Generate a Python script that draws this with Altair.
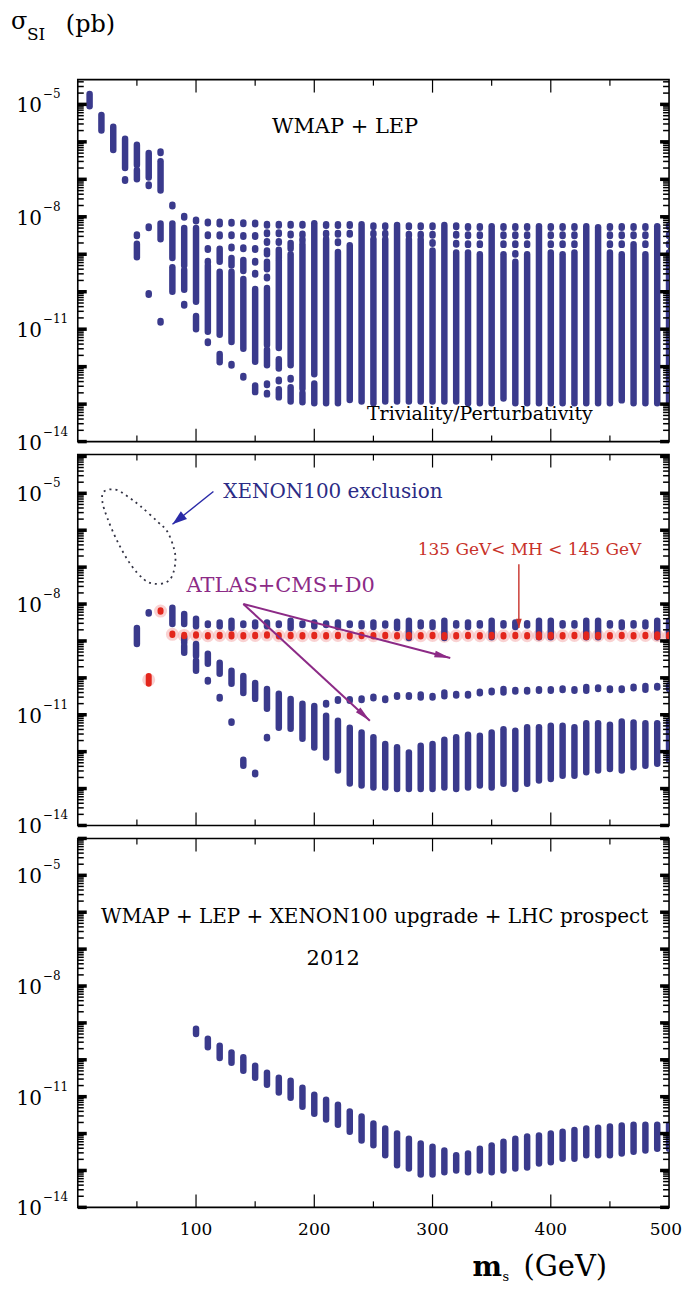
import math
import altair as alt
import pandas as pd

# ---------------- layout constants ----------------
W = 593
H1, H2, H3 = 363, 372, 370
TOP1, TOP2, TOP3 = -4.34, -3.95, -4.0   # log10 of upper y limit per panel
BOT = -14

BLUE = "#3a3a8c"
RED = "#e3261c"
PINK = "#f4a6a6"
PURPLE = "#8c2a86"
DBLUE = "#2b2b85"
FONT = "DejaVu Serif"

# ---------------- data (m_s in GeV, log10 sigma_SI in pb: top, bottom) ----------------
P1_SEG = [
    (10, -4.72, -5.05),
    (20, -5.28, -5.70),
    (30, -5.60, -6.22),
    (40, -5.92, -6.70), (40, -7.00, -7.04),
    (50, -6.08, -6.62), (50, -6.75, -7.00), (50, -8.47, -8.51), (50, -8.72, -9.08),
    (60, -6.30, -6.95), (60, -7.14, -7.18), (60, -8.26, -8.30), (60, -10.04, -10.08),
    (70, -6.26, -6.30), (70, -6.52, -7.30), (70, -8.18, -8.60), (70, -10.78, -10.82),
    (80, -7.68, -7.72), (80, -8.18, -9.10), (80, -9.35, -10.00),
    (90, -7.98, -8.02), (90, -8.30, -9.30), (90, -9.42, -9.95), (90, -10.33, -10.37),
    (100, -8.08, -8.12), (100, -8.30, -10.27), (100, -10.65, -11.00),
    (110, -8.13, -8.17), (110, -8.47, -8.51), (110, -8.84, -8.88), (110, -9.18, -9.22), (110, -9.30, -11.07), (110, -11.33, -11.37),
    (120, -8.13, -8.20), (120, -8.47, -8.52), (120, -8.85, -9.20), (120, -9.47, -11.15), (120, -11.66, -11.88),
    (130, -8.14, -8.18), (130, -8.47, -8.51), (130, -8.80, -8.84), (130, -9.10, -9.30), (130, -9.47, -11.34), (130, -11.93, -11.97),
    (140, -8.15, -8.19), (140, -8.49, -8.53), (140, -8.82, -8.86), (140, -9.15, -9.45), (140, -9.66, -11.52), (140, -12.25, -12.29),
    (150, -8.16, -8.20), (150, -8.49, -8.53), (150, -8.84, -8.88), (150, -9.18, -9.22), (150, -9.50, -9.54), (150, -9.93, -11.87), (150, -12.50, -12.68),
    (160, -8.19, -8.23), (160, -8.42, -8.46), (160, -8.65, -8.69), (160, -8.90, -9.00), (160, -9.20, -9.40), (160, -9.60, -9.64), (160, -9.90, -11.42), (160, -11.55, -11.96), (160, -12.45, -12.49), (160, -12.70, -12.74),
    (170, -8.19, -8.23), (170, -8.42, -8.46), (170, -8.65, -8.69), (170, -8.88, -9.10), (170, -9.16, -11.50), (170, -11.80, -12.05), (170, -12.35, -12.39), (170, -12.60, -12.82),
    (180, -8.19, -8.23), (180, -8.45, -8.49), (180, -8.70, -8.85), (180, -9.00, -11.96), (180, -12.30, -12.34), (180, -12.55, -12.93),
    (190, -8.19, -8.23), (190, -8.45, -8.49), (190, -8.60, -8.64), (190, -8.73, -12.59), (190, -12.70, -12.95),
    (200, -8.17, -12.20), (200, -12.45, -12.98),
    (210, -8.20, -8.24), (210, -8.43, -8.47), (210, -8.59, -12.98),
    (220, -8.20, -8.24), (220, -8.43, -8.47), (220, -8.66, -8.70), (220, -8.94, -12.98),
    (230, -8.20, -8.24), (230, -8.43, -8.47), (230, -8.76, -12.89),
    (240, -8.20, -12.93),
    (250, -8.23, -8.27), (250, -8.43, -8.47), (250, -8.60, -12.98),
    (260, -8.23, -8.27), (260, -8.43, -8.47), (260, -8.60, -12.93),
    (270, -8.22, -12.93),
    (280, -8.23, -8.27), (280, -8.46, -8.50), (280, -8.60, -12.93),
    (290, -8.23, -8.27), (290, -8.46, -8.50), (290, -8.60, -12.93),
    (300, -8.23, -8.27), (300, -8.46, -8.50), (300, -8.68, -8.72), (300, -8.90, -12.93),
    (310, -8.22, -12.93),
    (320, -8.23, -8.27), (320, -8.46, -8.50), (320, -8.70, -8.74), (320, -8.95, -12.93),
    (330, -8.25, -8.29), (330, -8.47, -8.51), (330, -8.71, -8.75), (330, -8.95, -12.98),
    (340, -8.25, -8.29), (340, -8.47, -8.51), (340, -8.71, -8.75), (340, -9.00, -12.98),
    (350, -8.25, -12.98),
    (360, -8.25, -8.29), (360, -8.47, -8.51), (360, -8.71, -8.75), (360, -9.00, -12.85),
    (370, -8.25, -8.29), (370, -8.47, -8.51), (370, -8.71, -8.75), (370, -8.97, -9.01), (370, -9.20, -12.98),
    (380, -8.25, -8.29), (380, -8.47, -8.51), (380, -8.71, -8.75), (380, -9.00, -12.98),
    (390, -8.25, -12.98),
    (400, -8.25, -8.29), (400, -8.47, -8.51), (400, -8.71, -8.75), (400, -8.95, -12.98),
    (410, -8.25, -8.29), (410, -8.47, -8.51), (410, -8.71, -8.75), (410, -9.00, -12.98),
    (420, -8.25, -8.29), (420, -8.47, -8.51), (420, -8.71, -8.75), (420, -8.95, -12.98),
    (430, -8.25, -12.98),
    (440, -8.28, -12.98),
    (450, -8.25, -8.29), (450, -8.47, -8.51), (450, -8.71, -8.75), (450, -8.95, -12.98),
    (460, -8.25, -8.29), (460, -8.47, -8.51), (460, -8.71, -8.75), (460, -9.00, -12.90),
    (470, -8.25, -8.29), (470, -8.47, -8.51), (470, -8.73, -12.98),
    (480, -8.25, -8.29), (480, -8.47, -8.51), (480, -8.71, -8.75), (480, -9.00, -12.98),
    (490, -8.25, -12.98),
    (500, -8.23, -8.27), (500, -8.47, -8.51), (500, -8.71, -8.75), (500, -8.95, -12.98),
]

P2_BLUE = [
    (50, -8.65, -9.08),
    (60, -8.22, -8.26),
    (80, -8.10, -8.54),
    (90, -8.27, -8.54), (90, -8.90, -9.05), (90, -9.14, -9.32),
    (100, -8.40, -8.60), (100, -9.08, -9.41), (100, -9.54, -9.81),
    (110, -8.53, -8.57), (110, -9.35, -9.62), (110, -10.06, -10.10),
    (120, -8.50, -8.60), (120, -9.59, -9.89), (120, -10.52, -10.56),
    (130, -8.45, -8.65), (130, -9.81, -10.16), (130, -11.18, -11.22),
    (140, -8.53, -8.57), (140, -9.95, -10.41), (140, -12.22, -12.38),
    (150, -8.50, -8.60), (150, -10.14, -10.57), (150, -12.57, -12.61),
    (160, -8.50, -8.60), (160, -10.30, -10.84), (160, -11.60, -11.64),
    (170, -8.53, -8.57), (170, -10.43, -11.35),
    (180, -8.45, -8.65), (180, -10.57, -11.38),
    (190, -8.53, -8.57), (190, -10.70, -11.65),
    (200, -8.50, -8.60), (200, -10.76, -11.89),
    (210, -8.53, -8.57), (210, -10.68, -10.72), (210, -11.03, -12.16),
    (220, -8.50, -8.62), (220, -10.58, -10.62), (220, -11.16, -12.51),
    (230, -8.53, -8.57), (230, -10.58, -10.62), (230, -11.35, -12.86),
    (240, -8.52, -8.60), (240, -10.56, -10.60), (240, -11.48, -12.92),
    (250, -8.50, -8.62), (250, -10.51, -10.55), (250, -11.61, -12.97),
    (260, -8.53, -8.58), (260, -10.56, -10.60), (260, -11.79, -12.97),
    (270, -8.48, -8.65), (270, -10.47, -10.51), (270, -11.88, -13.01),
    (280, -8.45, -8.92), (280, -10.47, -10.51), (280, -12.02, -13.01),
    (290, -8.50, -8.60), (290, -10.45, -10.53), (290, -11.84, -13.01),
    (300, -8.50, -8.62), (300, -10.49, -10.53), (300, -11.79, -13.01),
    (310, -8.45, -8.92), (310, -10.40, -10.50), (310, -11.68, -12.97),
    (320, -8.52, -8.58), (320, -10.44, -10.48), (320, -11.61, -13.01),
    (330, -8.50, -8.62), (330, -10.44, -10.48), (330, -11.54, -12.97),
    (340, -8.52, -8.58), (340, -10.38, -10.42), (340, -11.57, -12.92),
    (350, -8.45, -8.90), (350, -10.35, -10.39), (350, -11.48, -12.97),
    (360, -8.52, -8.58), (360, -10.30, -10.40), (360, -11.39, -12.87),
    (370, -8.50, -8.62), (370, -10.33, -10.37), (370, -11.43, -13.01),
    (380, -8.52, -8.58), (380, -10.33, -10.37), (380, -11.34, -12.87),
    (390, -8.45, -8.90), (390, -10.31, -10.35), (390, -11.34, -12.78),
    (400, -8.45, -8.90), (400, -10.31, -10.35), (400, -11.30, -12.74),
    (410, -8.52, -8.58), (410, -10.29, -10.33), (410, -11.30, -12.65),
    (420, -8.52, -8.58), (420, -10.31, -10.35), (420, -11.34, -12.65),
    (430, -8.45, -8.90), (430, -10.25, -10.35), (430, -11.23, -12.56),
    (440, -8.45, -8.90), (440, -10.26, -10.30), (440, -11.23, -12.51),
    (450, -8.52, -8.58), (450, -10.29, -10.33), (450, -11.27, -12.47),
    (460, -8.50, -8.62), (460, -10.29, -10.33), (460, -11.18, -12.51),
    (470, -8.52, -8.58), (470, -10.24, -10.28), (470, -11.21, -12.42),
    (480, -8.50, -8.60), (480, -10.22, -10.32), (480, -11.23, -12.38),
    (490, -8.45, -8.90), (490, -10.22, -10.26), (490, -11.23, -12.33),
    (500, -8.45, -8.90), (500, -10.20, -10.30), (500, -11.16, -12.24),
]

P2_RED = [
    (60, -9.95, -10.16), (70, -8.17, -8.21),
    (80, -8.80, -8.84), (90, -8.83, -8.87), (100, -8.82, -8.86), (110, -8.84, -8.88),
    (120, -8.83, -8.87), (130, -8.82, -8.88), (140, -8.84, -8.88), (150, -8.83, -8.87),
    (160, -8.82, -8.86), (170, -8.84, -8.88), (180, -8.83, -8.87), (190, -8.84, -8.88),
    (200, -8.83, -8.87), (210, -8.84, -8.88), (220, -8.83, -8.87), (230, -8.84, -8.88),
    (240, -8.83, -8.87), (250, -8.84, -8.88), (260, -8.83, -8.87), (270, -8.84, -8.88),
    (280, -8.83, -8.89), (290, -8.84, -8.88), (300, -8.83, -8.87), (310, -8.84, -8.90),
    (320, -8.84, -8.88), (330, -8.83, -8.87), (340, -8.84, -8.88), (350, -8.83, -8.89),
    (360, -8.84, -8.88), (370, -8.83, -8.87), (380, -8.84, -8.88), (390, -8.82, -8.90),
    (400, -8.83, -8.89), (410, -8.84, -8.88), (420, -8.83, -8.87), (430, -8.82, -8.90),
    (440, -8.83, -8.89), (450, -8.84, -8.88), (460, -8.83, -8.87), (470, -8.84, -8.88),
    (480, -8.83, -8.87), (490, -8.82, -8.90), (500, -8.83, -8.89),
]

P3_SEG = [
    (100, -9.16, -9.30), (110, -9.43, -9.66), (120, -9.62, -9.95), (130, -9.80, -10.08),
    (140, -9.93, -10.30), (150, -10.16, -10.49), (160, -10.35, -10.68), (170, -10.49, -10.89),
    (180, -10.57, -11.03), (190, -10.76, -11.27), (200, -10.95, -11.46), (210, -11.08, -11.62),
    (220, -11.22, -11.76), (230, -11.40, -11.95), (240, -11.54, -12.19), (250, -11.73, -12.32),
    (260, -11.86, -12.59), (270, -12.00, -12.86), (280, -12.14, -12.95), (290, -12.27, -13.11),
    (300, -12.36, -13.11), (310, -12.46, -13.05), (320, -12.59, -13.00), (330, -12.54, -13.05),
    (340, -12.41, -13.00), (350, -12.32, -13.05), (360, -12.22, -13.00), (370, -12.14, -12.95),
    (380, -12.08, -12.92), (390, -12.05, -12.81), (400, -12.00, -12.78), (410, -11.95, -12.68),
    (420, -11.90, -12.68), (430, -11.86, -12.59), (440, -11.84, -12.59), (450, -11.81, -12.59),
    (460, -11.78, -12.54), (470, -11.76, -12.49), (480, -11.76, -12.46), (490, -11.76, -12.41),
    (500, -11.76, -12.41),
]

# XENON100 exclusion contour (dotted, closed)
XENON_M = [22.2, 32.0, 41.9, 53.1, 67.2, 75.6, 81.2, 82.6, 79.8, 74.2, 64.3, 55.9, 44.7, 33.5, 25.0, 20.8]
XENON_E = [-4.95, -4.90, -5.08, -5.35, -5.76, -6.03, -6.48, -6.84, -7.24, -7.42, -7.45, -7.33, -6.93, -6.30, -5.67, -5.22]

# arrows in panel 2: (m0, e0, m1, e1, colour, width, head path, head size)
ARROWS_P2 = [
    (114.7, -4.95, 80.1, -5.84, "#2a2aa8", 1.4, "M0,0L0.8,2.4L-0.8,2.4Z", 150),
    (140.0, -8.00, 315.0, -9.46, PURPLE, 2.0, "M0,0L0.55,2.6L-0.55,2.6Z", 150),
    (140.0, -8.00, 247.0, -11.16, PURPLE, 2.0, "M0,0L0.55,2.6L-0.55,2.6Z", 150),
    (373.0, -6.92, 373.0, -8.65, "#c8322a", 1.4, "M0,0L0.7,2.2L-0.7,2.2Z", 70),
]

# annotation texts: (text, m, log10 sigma, align, colour, size)
TEXT_P1 = [
    ("WMAP + LEP", 226, -5.61, "center", "black", 21),
    ("Triviality/Perturbativity", 340, -13.27, "center", "black", 19),
]
TEXT_P2 = [
    ("XENON100 exclusion", 123, -4.96, "left", DBLUE, 20),
    ("ATLAS+CMS+D0", 92, -7.51, "left", PURPLE, 21),
    ("135 GeV< MH < 145 GeV", 382, -6.53, "center", "#c8322a", 17),
]
TEXT_P3 = [
    ("WMAP + LEP + XENON100 upgrade + LHC prospect", 251, -6.14, "center", "black", 20),
    ("2012", 216, -7.27, "center", "black", 21),
]

Y_LABEL_EXPS = [-5, -8, -11, -14]
X_MAJOR = [100, 200, 300, 400]
X_MINOR = [50, 150, 250, 350, 450]
X_LABELS = [100, 200, 300, 400, 500]


# ---------------- helpers ----------------
def xsc():
    return alt.Scale(domain=[0, 500], nice=False, zero=False)


def ysc(top):
    return alt.Scale(type="log", domain=[10.0 ** BOT, 10.0 ** top], nice=False)


def X(field="m"):
    return alt.X(f"{field}:Q", scale=xsc(), axis=None)


def Y(top, field="y"):
    return alt.Y(f"{field}:Q", scale=ysc(top), axis=None)


def seg_layer(rows, top, color, width=6.5):
    df = pd.DataFrame(rows, columns=["m", "hi", "lo"])
    df["y"] = 10.0 ** df["hi"]
    df["y2"] = 10.0 ** df["lo"]
    return alt.Chart(df).mark_rule(strokeWidth=width, strokeCap="round", color=color, clip=True).encode(
        x=X(), y=Y(top), y2="y2:Q")


def frame_ticks(top, H):
    layers = []
    maj = [10.0 ** e for e in range(BOT, 0) if e <= top + 1e-9]
    minr = [k * 10.0 ** e for e in range(BOT, 0) for k in range(2, 10) if math.log10(k) + e < top]
    dmaj = pd.DataFrame({"y": maj})
    dmin = pd.DataFrame({"y": minr})
    for x0, x1, x2, x3 in [(0, 9, 0, 6), (W - 9, W, W - 6, W)]:
        layers.append(alt.Chart(dmaj).mark_rule(strokeWidth=3.5, color="black").encode(
            x=alt.value(x0), x2=alt.value(x1), y=Y(top)))
        layers.append(alt.Chart(dmin).mark_rule(strokeWidth=1.5, color="black").encode(
            x=alt.value(x2), x2=alt.value(x3), y=Y(top)))
    dxM = pd.DataFrame({"m": X_MAJOR})
    dxm = pd.DataFrame({"m": X_MINOR})
    for y0, y1, y2, y3 in [(0, 13, 0, 6), (H - 13, H, H - 6, H)]:
        layers.append(alt.Chart(dxM).mark_rule(strokeWidth=1.2, color="black").encode(
            x=X(), y=alt.value(y0), y2=alt.value(y1)))
        layers.append(alt.Chart(dxm).mark_rule(strokeWidth=1.2, color="black").encode(
            x=X(), y=alt.value(y2), y2=alt.value(y3)))
    return layers


def y_labels(top):
    df = pd.DataFrame({"e": Y_LABEL_EXPS})
    df["y"] = 10.0 ** df["e"]
    df["base"] = "10"
    df["expo"] = ["\u2212" + str(-e) for e in Y_LABEL_EXPS]
    a = alt.Chart(df).mark_text(align="right", baseline="middle", font=FONT, fontSize=20, dy=2,
                                color="black").encode(x=alt.value(-36), y=Y(top), text="base:N")
    b = alt.Chart(df).mark_text(align="left", baseline="middle", font=FONT, fontSize=12, dy=-10,
                                color="black").encode(x=alt.value(-35), y=Y(top), text="expo:N")
    return [a, b]


def texts(items, top):
    out = []
    for t, m, e, al, col, sz in items:
        df = pd.DataFrame({"m": [m], "y": [10.0 ** e], "t": [t]})
        out.append(alt.Chart(df).mark_text(align=al, baseline="middle", font=FONT, fontSize=sz,
                                           color=col).encode(x=X(), y=Y(top), text="t:N"))
    return out


def arrows(items, top, H):
    out = []
    for m0, e0, m1, e1, col, sw, path, size in items:
        df = pd.DataFrame({"m": [m0], "y": [10.0 ** e0], "m2": [m1], "y2": [10.0 ** e1]})
        out.append(alt.Chart(df).mark_rule(color=col, strokeWidth=sw).encode(
            x=X(), y=Y(top), x2="m2:Q", y2="y2:Q"))
        dx = (m1 - m0) * W / 500.0
        dy = (e0 - e1) * H / (top - BOT)
        ang = math.degrees(math.atan2(dx, -dy)) % 360
        dh = pd.DataFrame({"m": [m1], "y": [10.0 ** e1]})
        out.append(alt.Chart(dh).mark_point(shape=path, filled=True, size=size, color=col,
                                            strokeWidth=0, opacity=1, angle=ang).encode(x=X(), y=Y(top)))
    return out


def txt_px(t, x, y, size, align="left", weight="normal"):
    df = pd.DataFrame({"t": [t]})
    return alt.Chart(df).mark_text(align=align, baseline="alphabetic", font=FONT, fontSize=size,
                                   fontWeight=weight, color="black").encode(
        x=alt.value(x), y=alt.value(y), text="t:N")


# ---------------- panel 1 ----------------
anchor = alt.Chart(pd.DataFrame({"a": [0]})).mark_rule(color="white", strokeWidth=0.1).encode(
    x=alt.value(-77), x2=alt.value(607), y=alt.value(-77))

p1_layers = [anchor, seg_layer(P1_SEG, TOP1, BLUE)]
p1_layers += frame_ticks(TOP1, H1) + y_labels(TOP1) + texts(TEXT_P1, TOP1)
p1_layers += [
    txt_px("\u03c3", -67, -51, 24),
    txt_px("SI", -51, -40, 17),
    txt_px("(pb)", -12, -48, 24),
]
p1 = alt.layer(*p1_layers).properties(width=W, height=H1)

# ---------------- panel 2 ----------------
xen = pd.DataFrame({"m": XENON_M, "y": [10.0 ** e for e in XENON_E], "o": list(range(len(XENON_M)))})
xen_layer = alt.Chart(xen).mark_line(interpolate="cardinal-closed", strokeDash=[2, 4], strokeWidth=1.8,
                                     color="#333344").encode(x=X(), y=Y(TOP2), order="o:Q")

red_df = pd.DataFrame(P2_RED, columns=["m", "hi", "lo"])
red_df["y"] = 10.0 ** ((red_df["hi"] + red_df["lo"]) / 2)
halo = alt.Chart(red_df).mark_point(filled=True, shape="circle", size=170, color=PINK, opacity=0.5,
                                    strokeWidth=0, clip=True).encode(x=X(), y=Y(TOP2))

p2_layers = [xen_layer, halo, seg_layer(P2_BLUE, TOP2, BLUE), seg_layer(P2_RED, TOP2, RED, 6)]
p2_layers += arrows(ARROWS_P2, TOP2, H2)
p2_layers += frame_ticks(TOP2, H2) + y_labels(TOP2) + texts(TEXT_P2, TOP2)
p2 = alt.layer(*p2_layers).properties(width=W, height=H2)

# ---------------- panel 3 ----------------
xl = pd.DataFrame({"m": X_LABELS, "t": [str(v) for v in X_LABELS]})
xl_a = alt.Chart(xl[xl["m"] < 500]).mark_text(align="center", baseline="alphabetic", font=FONT,
                                             fontSize=17, color="black").encode(
    x=X(), y=alt.value(H3 + 28), text="t:N")
xl_b = alt.Chart(xl[xl["m"] == 500]).mark_text(align="right", baseline="alphabetic", font=FONT,
                                              fontSize=17, color="black", dx=13).encode(
    x=X(), y=alt.value(H3 + 28), text="t:N")

p3_layers = [seg_layer(P3_SEG, TOP3, BLUE)]
p3_layers += frame_ticks(TOP3, H3) + y_labels(TOP3) + texts(TEXT_P3, TOP3)
p3_layers += [xl_a, xl_b,
              txt_px("m", 396, H3 + 69, 28, weight="bold"),
              txt_px("s", 426, H3 + 74, 13),
              txt_px("(GeV)", 447, H3 + 69, 29)]
p3 = alt.layer(*p3_layers).properties(width=W, height=H3)

chart = alt.vconcat(p1, p2, p3, spacing=13, bounds="flush").properties(
    padding=0, background="white"
).configure_view(stroke="black", strokeWidth=1.6)

chart.save("out.html", embed_options={"renderer": "svg", "actions": False})
